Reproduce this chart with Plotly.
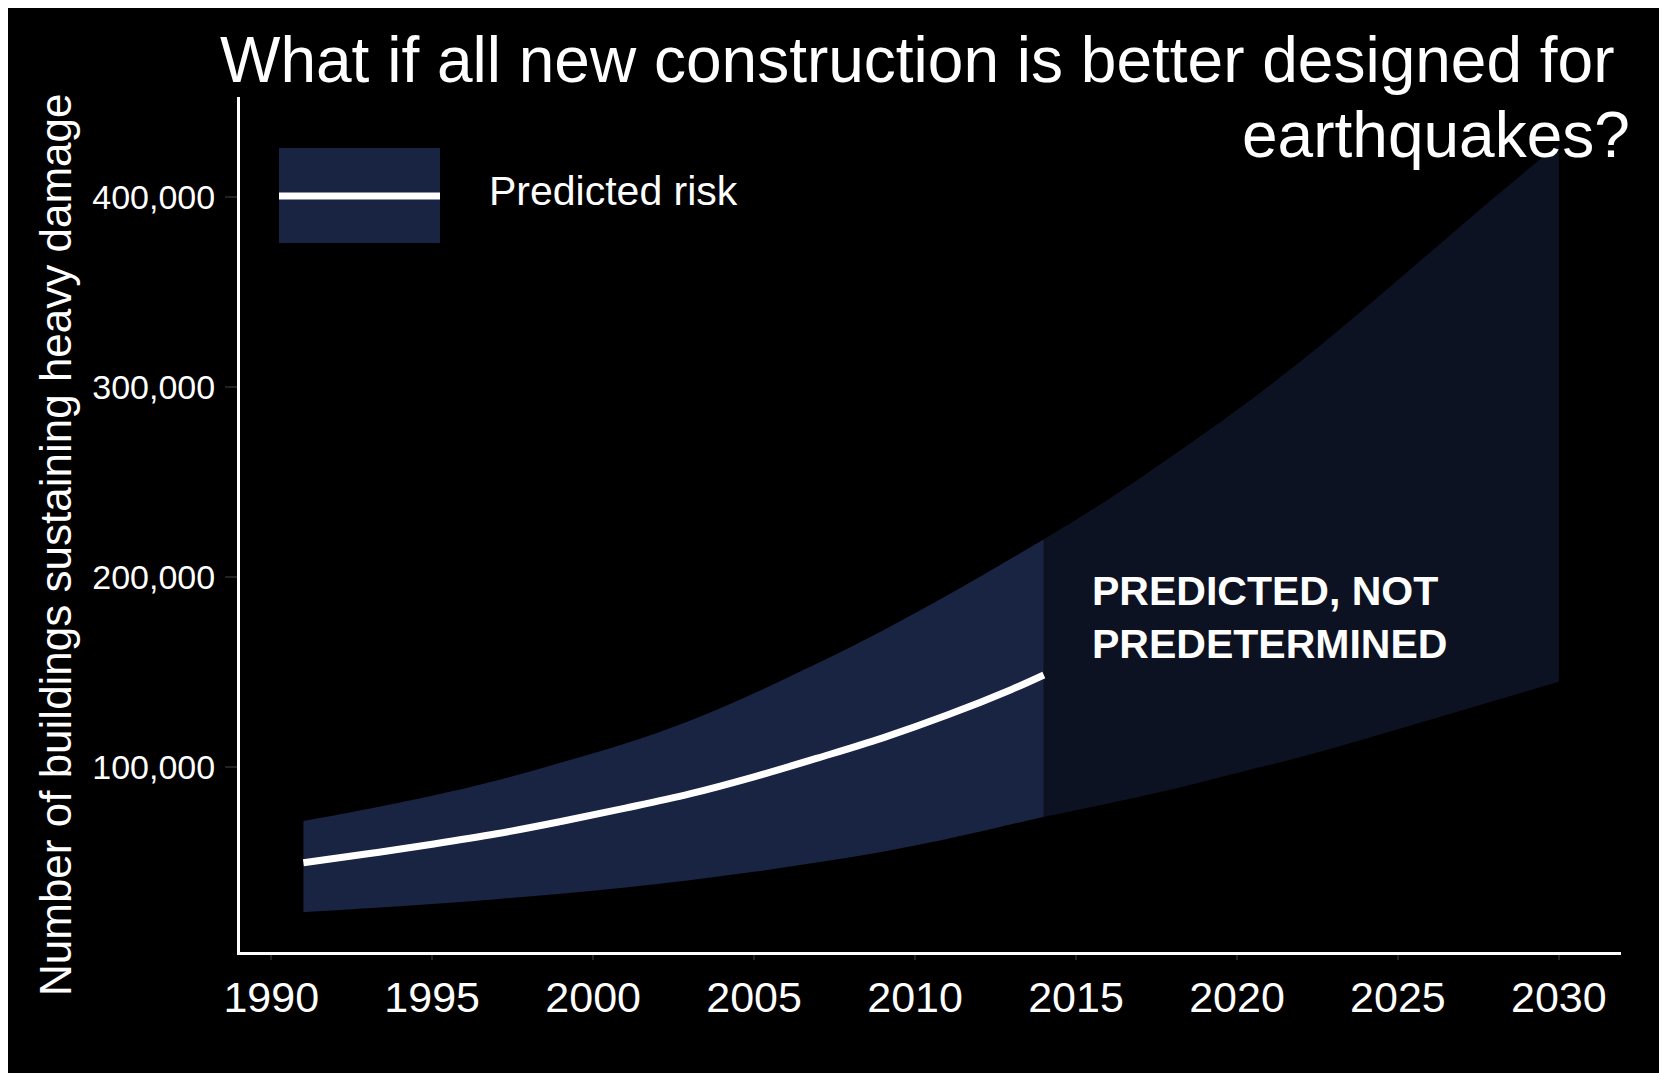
import plotly.graph_objects as go

# ---- data ----
past_years = [1991, 1993, 1995, 1997, 1999, 2001, 2003, 2005, 2007, 2009, 2011, 2013, 2014]
past_upper = [71700, 78000, 85000, 93000, 102500, 112500, 124500, 139000, 155000, 172000, 190500, 210000, 220000]
past_lower = [23700, 25800, 28000, 30600, 33500, 36800, 40600, 45000, 50000, 55600, 62300, 70000, 74000]
past_line = [49800, 54500, 59500, 65000, 71500, 78500, 86000, 95000, 105000, 115500, 127500, 141000, 148600]

future_years = [2014, 2016, 2018, 2020, 2022, 2024, 2026, 2028, 2030]
future_upper = [220000, 241000, 264000, 288000, 314000, 342000, 371000, 400000, 428000]
future_lower = [74000, 81000, 88500, 97000, 105500, 115000, 125000, 135000, 145000]

x_ticks = [1990, 1995, 2000, 2005, 2010, 2015, 2020, 2025, 2030]
y_ticks = [100000, 200000, 300000, 400000]

title_line1 = "What if all new construction is better designed for "
title_line2 = "earthquakes?"
y_title = "Number of buildings sustaining heavy damage"
legend_label = "Predicted risk"
note_text = "PREDICTED, NOT<br>PREDETERMINED"

PAST_FILL = "#192342"
FUTURE_FILL = "#0d1223"
FONT = "Liberation Sans, Arial, Helvetica, sans-serif"

fig = go.Figure()

# past band
fig.add_trace(go.Scatter(x=past_years, y=past_lower, mode="lines", line=dict(width=0, shape="spline"),
                         showlegend=False, hoverinfo="skip"))
fig.add_trace(go.Scatter(x=past_years, y=past_upper, mode="lines", line=dict(width=0, shape="spline"),
                         fill="tonexty", fillcolor=PAST_FILL, showlegend=False, hoverinfo="skip"))
# future band
fig.add_trace(go.Scatter(x=future_years, y=future_lower, mode="lines", line=dict(width=0, shape="spline"),
                         showlegend=False, hoverinfo="skip"))
fig.add_trace(go.Scatter(x=future_years, y=future_upper, mode="lines", line=dict(width=0, shape="spline"),
                         fill="tonexty", fillcolor=FUTURE_FILL, showlegend=False, hoverinfo="skip"))
# predicted line
fig.add_trace(go.Scatter(x=past_years, y=past_line, mode="lines",
                         line=dict(color="white", width=7, shape="spline"),
                         name=legend_label, showlegend=False))

# figure geometry (pixels); page body margin adds 8 px offset
OFF = 8
W, H = 1667 - OFF, 1073 - OFF
L, R, T, B = 232, 46, 89, 121
PW, PH = W - L - R, H - T - B


def px_x(p):
    # p is a page x coordinate
    return (p - OFF - L) / PW


def px_y(p):
    # p is a page y coordinate
    return (H - B - (p - OFF)) / PH


shapes = [
    # legend swatch
    dict(type="rect", xref="paper", yref="paper", x0=px_x(279), x1=px_x(440), y0=px_y(243), y1=px_y(148),
         fillcolor=PAST_FILL, line=dict(width=0), layer="above"),
    dict(type="line", xref="paper", yref="paper", x0=px_x(279), x1=px_x(440), y0=px_y(196), y1=px_y(196),
         line=dict(color="white", width=7), layer="above"),
]

annotations = [
    dict(text=title_line1, xref="paper", yref="paper", x=px_x(1634), y=px_y(60), xanchor="right",
         yanchor="middle", showarrow=False, font=dict(family=FONT, size=64, color="white")),
    dict(text=title_line2, xref="paper", yref="paper", x=px_x(1632), y=px_y(135), xanchor="right",
         yanchor="middle", showarrow=False, font=dict(family=FONT, size=64, color="white")),
    dict(text=y_title, xref="paper", yref="paper", x=px_x(55), y=px_y(545), xanchor="center",
         yanchor="middle", textangle=-90, showarrow=False, font=dict(family=FONT, size=44, color="white")),
    dict(text=legend_label, xref="paper", yref="paper", x=px_x(487), y=px_y(191), xanchor="left",
         yanchor="middle", showarrow=False, font=dict(family=FONT, size=41, color="white")),
    dict(text="<b>" + note_text + "</b>", xref="x", yref="y", x=2015.45, y=179000, xanchor="left",
         yanchor="middle", align="left", showarrow=False, font=dict(family=FONT, size=41, color="white")),
]

fig.update_layout(
    width=W, height=H,
    margin=dict(l=L, r=R, t=T, b=B, pad=0),
    paper_bgcolor="black",
    plot_bgcolor="black",
    font=dict(family=FONT, color="white"),
    shapes=shapes,
    annotations=annotations,
    showlegend=False,
)

fig.update_xaxes(
    range=[1989.03, 2031.93], tickmode="array", tickvals=x_ticks, ticktext=[str(v) for v in x_ticks],
    showgrid=False, zeroline=False, showline=True, linecolor="white", linewidth=3,
    ticks="outside", ticklen=5, tickwidth=2, tickcolor="#222222",
    tickfont=dict(family=FONT, size=43, color="white"),
)
fig.update_yaxes(
    range=[2800, 452800], tickmode="array", tickvals=y_ticks, ticktext=[f"{v:,}" for v in y_ticks],
    showgrid=False, zeroline=False, showline=True, linecolor="white", linewidth=3,
    ticks="outside", ticklen=12, tickwidth=2, tickcolor="#222222", ticklabelstandoff=3,
    tickfont=dict(family=FONT, size=34, color="white"),
)

fig.write_html("out.html")
